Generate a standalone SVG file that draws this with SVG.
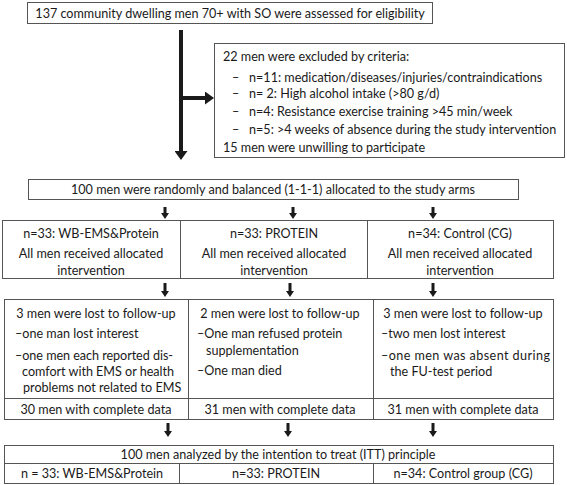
<svg xmlns="http://www.w3.org/2000/svg" width="567" height="485" viewBox="0 0 567 485">
<style>
  .box{fill:#fff;stroke:#555;stroke-width:1}
  .div{stroke:#555;stroke-width:1;fill:none}
  text{font-family:Lato,"Open Sans","Liberation Sans",sans-serif;font-size:12.6px;fill:#1a1a1a}
  .c{text-anchor:middle}
  .big{stroke:#1a1a1a;stroke-width:4;fill:none}
  .sm{stroke:#1a1a1a;stroke-width:3;fill:none}
</style>
<defs>
  <marker id="bh" markerUnits="userSpaceOnUse" markerWidth="9" markerHeight="13" refX="0" refY="6.5" orient="auto">
    <path d="M0,0 L9,6.5 L0,13 z" fill="#1a1a1a"/>
  </marker>
  <marker id="sh" markerUnits="userSpaceOnUse" markerWidth="6" markerHeight="8" refX="0" refY="4" orient="auto">
    <path d="M0,0 L6,4 L0,8 z" fill="#1a1a1a"/>
  </marker>
</defs>

<g id="connectors">
  <line class="big" x1="181" y1="30" x2="181" y2="151" marker-end="url(#bh)"/>
  <line class="big" x1="181" y1="98" x2="205" y2="98" marker-end="url(#bh)"/>
  <line class="sm" x1="165" y1="207" x2="165" y2="213" marker-end="url(#sh)"/>
  <line class="sm" x1="293" y1="207" x2="293" y2="213" marker-end="url(#sh)"/>
  <line class="sm" x1="433" y1="207" x2="433" y2="213" marker-end="url(#sh)"/>
  <line class="sm" x1="165" y1="283" x2="165" y2="291" marker-end="url(#sh)"/>
  <line class="sm" x1="290" y1="283" x2="290" y2="291" marker-end="url(#sh)"/>
  <line class="sm" x1="433" y1="283" x2="433" y2="291" marker-end="url(#sh)"/>
  <line class="sm" x1="168" y1="423" x2="168" y2="431" marker-end="url(#sh)"/>
  <line class="sm" x1="288" y1="423" x2="288" y2="431" marker-end="url(#sh)"/>
  <line class="sm" x1="433" y1="423" x2="433" y2="431" marker-end="url(#sh)"/>
</g>

<g id="assessed">
  <rect class="box" x="27.5" y="2.5" width="405" height="21"/>
  <text class="c" x="230" y="17.5">137 community dwelling men 70+ with SO were assessed for eligibility</text>
</g>

<g id="excluded">
  <rect class="box" x="214.5" y="43.5" width="350" height="114"/>
  <text x="223" y="61">22 men were excluded by criteria:</text>
  <text x="232" y="82">–</text><text x="249" y="82">n=11: medication/diseases/injuries/contraindications</text>
  <text x="232" y="98">–</text><text x="249" y="98">n= 2: High alcohol intake (&gt;80 g/d)</text>
  <text x="232" y="116">–</text><text x="249" y="116">n=4: Resistance exercise training &gt;45 min/week</text>
  <text x="232" y="134">–</text><text x="249" y="134">n=5: &gt;4 weeks of absence  during the study intervention</text>
  <text x="223" y="152">15 men were unwilling to participate</text>
</g>

<g id="randomized">
  <rect class="box" x="28.5" y="179.5" width="490" height="20"/>
  <text class="c" x="273" y="194">100 men were randomly and balanced (1-1-1) allocated to the study arms</text>
</g>

<g id="allocation">
  <rect class="box" x="2.5" y="220.5" width="551" height="58"/>
  <line class="div" x1="180.5" y1="220.5" x2="180.5" y2="278.5"/>
  <line class="div" x1="367.5" y1="220.5" x2="367.5" y2="278.5"/>
  <text class="c" x="91" y="238">n=33: WB-EMS&amp;Protein</text>
  <text class="c" x="91" y="258">All men received allocated</text>
  <text class="c" x="91" y="275">intervention</text>
  <text class="c" x="274" y="238">n=33: PROTEIN</text>
  <text class="c" x="274" y="258">All men received allocated</text>
  <text class="c" x="274" y="275">intervention</text>
  <text class="c" x="460" y="238">n=34: Control (CG)</text>
  <text class="c" x="460" y="258">All men received allocated</text>
  <text class="c" x="460" y="275">intervention</text>
</g>

<g id="followup">
  <rect class="box" x="4.5" y="299.5" width="549" height="120"/>
  <line class="div" x1="4.5" y1="398.5" x2="553.5" y2="398.5"/>
  <line class="div" x1="188.5" y1="299.5" x2="188.5" y2="419.5"/>
  <line class="div" x1="373.5" y1="299.5" x2="373.5" y2="419.5"/>
  <text class="c" x="96" y="318">3 men were lost to follow-up</text>
  <text x="15" y="338">–one man lost interest</text>
  <text x="15" y="360" textLength="158" lengthAdjust="spacing">–one men each reported dis-</text>
  <text x="22" y="376" textLength="152" lengthAdjust="spacing">comfort with EMS or health</text>
  <text x="23" y="392">problems not related to EMS</text>
  <text class="c" x="280" y="318">2 men were lost to follow-up</text>
  <text x="197" y="338">–One man refused protein</text>
  <text x="206" y="355">supplementation</text>
  <text x="197" y="375">–One man died</text>
  <text class="c" x="463" y="318">3 men were lost to follow-up</text>
  <text x="381" y="338">–two men lost interest</text>
  <text x="381" y="360" textLength="169" lengthAdjust="spacing">–one men was absent during</text>
  <text x="390" y="376">the FU-test period</text>
  <text class="c" x="96" y="414">30 men with complete data</text>
  <text class="c" x="280" y="414">31 men with complete data</text>
  <text class="c" x="463" y="414">31 men with complete data</text>
</g>

<g id="analyzed">
  <rect class="box" x="4.5" y="445.5" width="549" height="38"/>
  <line class="div" x1="4.5" y1="463.5" x2="553.5" y2="463.5"/>
  <line class="div" x1="179.5" y1="463.5" x2="179.5" y2="483.5"/>
  <line class="div" x1="373.5" y1="463.5" x2="373.5" y2="483.5"/>
  <text class="c" x="278" y="459">100 men analyzed  by the intention to treat (ITT) principle</text>
  <text class="c" x="92" y="478">n = 33: WB-EMS&amp;Protein</text>
  <text class="c" x="276" y="478">n=33: PROTEIN</text>
  <text class="c" x="463" y="478">n=34: Control group (CG)</text>
</g>
</svg>
